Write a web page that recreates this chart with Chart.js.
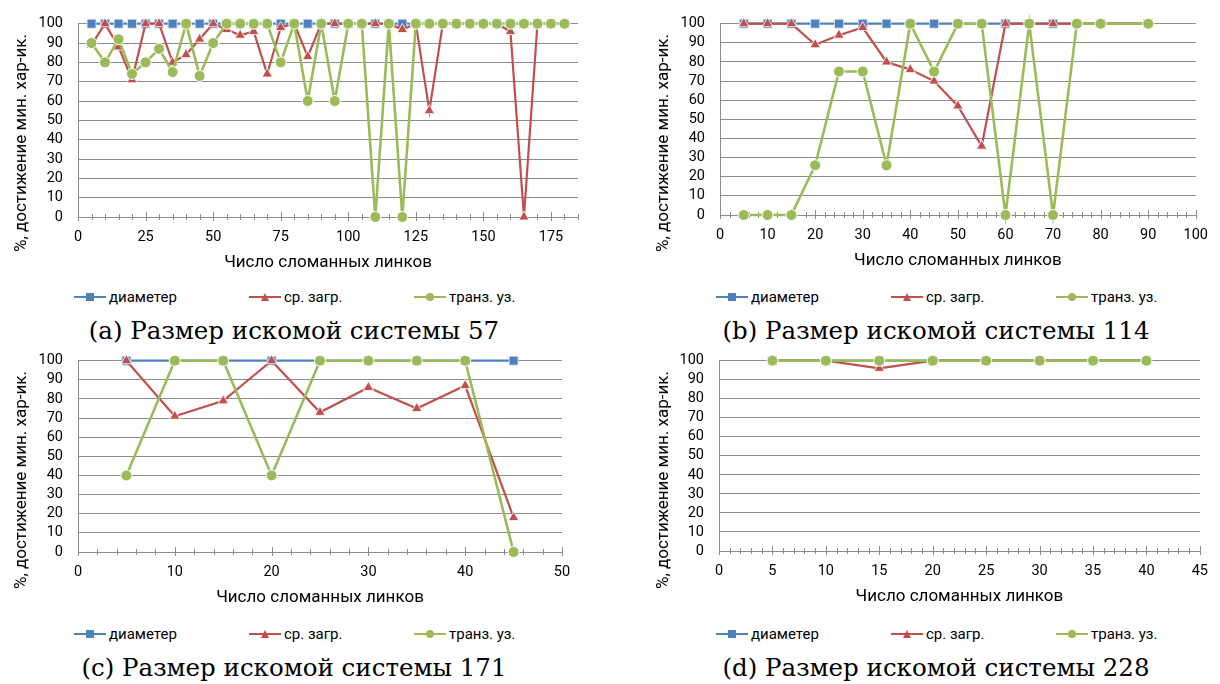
<!DOCTYPE html>
<html>
<head>
<meta charset="utf-8">
<script src="https://cdn.jsdelivr.net/npm/chart.js@4.4.1/dist/chart.umd.min.js"></script>
<style>
    body { margin: 0; background: #fff; width: 1220px; height: 684px; position: relative; overflow: hidden; font-family: Roboto, sans-serif; color: #000; }
    .panel { position: absolute; }
    .ytitle { position: absolute; transform: translate(-50%, -50%) rotate(-90deg); white-space: nowrap; font-size: 17px; }
    .legend-item { position: absolute; font-size: 15px; white-space: nowrap; transform: translateY(-50%); display: flex; align-items: center; }
    .sym { position: relative; display: inline-block; width: 32px; height: 12px; margin-right: 3px; }
    .sym .ln { position: absolute; left: 0; right: 0; top: 5px; height: 2px; }
    .sym .mk { position: absolute; left: 50%; top: 50%; transform: translate(-50%, -50%); }
    .caption { position: absolute; transform: translate(-50%, -50%); white-space: nowrap; font-family: "DejaVu Serif", serif; font-size: 24.5px; }
</style>
</head>
<body>

<script>
// ============================================================================
// Data
// ============================================================================

const seriesNames = ['диаметер', 'ср. загр.', 'транз. уз.'];
const captions = [
    '(a) Размер искомой системы 57',
    '(b) Размер искомой системы 114',
    '(c) Размер искомой системы 171',
    '(d) Размер искомой системы 228'
];

// (a) 57
const xA = [5, 10, 15, 20, 25, 30, 35, 40, 45, 50, 55, 60, 65, 70, 75, 80, 85, 90,
            95, 100, 105, 110, 115, 120, 125, 130, 135, 140, 145, 150, 155, 160, 165, 170, 175, 180];
const diamA = [100, 100, 100, 100, 100, 100, 100, 100, 100, 100, 100, 100, 100, 100, 100, 100, 100, 100,
               100, 100, 100, 100, 100, 100, 100, 100, 100, 100, 100, 100, 100, 100, 100, 100, 100, 100];
const loadA = [89, 100, 88, 71, 100, 100, 80, 84, 92, 100, 97, 94, 96, 74, 98, 100, 83, 100,
               100, 100, 100, 100, 100, 97, 100, 55, 100, 100, 100, 100, 100, 96, 0, 100, 100, 100];
const transA = [90, 80, 92, 74, 80, 87, 75, 100, 73, 90, 100, 100, 100, 100, 80, 100, 60, 100,
                60, 100, 100, 0, 100, 0, 100, 100, 100, 100, 100, 100, 100, 100, 100, 100, 100, 100];

// (b) 114
const xB = [5, 10, 15, 20, 25, 30, 35, 40, 45, 50, 55, 60, 65, 70, 75, 80, 90];
const diamB = [100, 100, 100, 100, 100, 100, 100, 100, 100, 100, 100, 100, 100, 100, 100, 100, 100];
const loadB = [100, 100, 100, 89, 94, 98, 80, 76, 70, 57, 36, 100, 100, 100, 100, 100, 100];
const transB = [0, 0, 0, 26, 75, 75, 26, 100, 75, 100, 100, 0, 100, 0, 100, 100, 100];

// (c) 171
const xC = [5, 10, 15, 20, 25, 30, 35, 40, 45];
const diamC = [100, 100, 100, 100, 100, 100, 100, 100, 100];
const loadC = [100, 71, 79, 100, 73, 86, 75, 87, 18];
const transC = [40, 100, 100, 40, 100, 100, 100, 100, 0];

// (d) 228
const xD = [5, 10, 15, 20, 25, 30, 35, 40];
const diamD = [100, 100, 100, 100, 100, 100, 100, 100];
const loadD = [100, 100, 96, 100, 100, 100, 100, 100];
const transD = [100, 100, 100, 100, 100, 100, 100, 100];

// ============================================================================
// Styles / layout
// ============================================================================

const BLUE = '#4F81BD';
const RED = '#C0504D';
const GREEN = '#9BBB59';
const GRID = '#8c8c8c';
const FONT = 'Roboto, sans-serif';

const panels = [
    { x: xA, s: [diamA, loadA, transA], left: 0,   top: 0,   w: 600, h: 280, area: [78, 578, 20, 217],  xMax: 185, major: 25, minor: 5 },
    { x: xB, s: [diamB, loadB, transB], left: 642, top: 0,   w: 578, h: 280, area: [720, 1207, 23, 215], xMax: 100, major: 10, minor: 2 },
    { x: xC, s: [diamC, loadC, transC], left: 0,   top: 337, w: 600, h: 280, area: [78, 562, 359, 552], xMax: 50,  major: 10, minor: 2 },
    { x: xD, s: [diamD, loadD, transD], left: 642, top: 337, w: 578, h: 280, area: [719, 1207, 358, 551], xMax: 45, major: 5,  minor: 1 }
];

// ============================================================================
// Axis tick marks (major + minor, crossing the axis line like Excel)
// ============================================================================

const crossTicks = {
    id: 'crossTicks',
    beforeDatasetsDraw(chart, args, opts) {
        const sc = chart.scales.x;
        const ctx = chart.ctx;
        const y = chart.chartArea.bottom;
        ctx.save();
        ctx.strokeStyle = GRID;
        ctx.lineWidth = 1;
        for (let v = 0; v <= sc.max + 1e-9; v += opts.minor) {
            const isMajor = Math.abs(v / opts.major - Math.round(v / opts.major)) < 1e-6;
            const px = Math.round(sc.getPixelForValue(v)) + 0.5;
            ctx.beginPath();
            ctx.moveTo(px, y - (isMajor ? 5 : 3));
            ctx.lineTo(px, y + (isMajor ? 4 : 3));
            ctx.stroke();
        }
        ctx.restore();
    }
};

function pts(xs, ys) {
    return xs.map((x, i) => ({ x: x, y: ys[i] }));
}

function makePanel(p, idx) {
    const div = document.createElement('div');
    div.className = 'panel';
    div.style.left = p.left + 'px';
    div.style.top = p.top + 'px';
    const canvas = document.createElement('canvas');
    canvas.width = p.w;
    canvas.height = p.h;
    div.appendChild(canvas);
    document.body.appendChild(div);

    const [aL, aR, aT, aB] = p.area;
    const yW = aL - p.left;
    const xH = p.top + p.h - aB;
    const titleSize = 17;

    new Chart(canvas.getContext('2d'), {
        type: 'line',
        data: {
            datasets: [
                {
                    label: seriesNames[0], data: pts(p.x, p.s[0]), order: 3,
                    borderColor: BLUE, backgroundColor: BLUE, borderWidth: 2.2,
                    pointStyle: 'rect', pointRadius: 6.3, pointBorderColor: '#dbe6f4', pointBorderWidth: 0.8
                },
                {
                    label: seriesNames[1], data: pts(p.x, p.s[1]), order: 2,
                    borderColor: RED, backgroundColor: RED, borderWidth: 2.2,
                    pointStyle: 'triangle', pointRadius: 6, pointBorderColor: '#ffffff', pointBorderWidth: 0.8
                },
                {
                    label: seriesNames[2], data: pts(p.x, p.s[2]), order: 1,
                    borderColor: GREEN, backgroundColor: GREEN, borderWidth: 2.6,
                    pointStyle: 'circle', pointRadius: 5.5, pointBorderColor: '#ffffff', pointBorderWidth: 1
                }
            ]
        },
        options: {
            responsive: false,
            animation: false,
            clip: false,
            layout: { padding: { left: 0, top: aT - p.top, right: p.left + p.w - aR, bottom: 0 } },
            plugins: {
                legend: { display: false },
                tooltip: { enabled: false },
                crossTicks: { major: p.major, minor: p.minor }
            },
            elements: { line: { tension: 0 } },
            scales: {
                x: {
                    type: 'linear',
                    min: 0,
                    max: p.xMax,
                    afterFit: (sc) => { sc.height = xH; },
                    afterBuildTicks: (sc) => {
                        const t = [];
                        for (let v = 0; v <= p.xMax; v += p.minor) t.push({ value: v });
                        sc.ticks = t;
                    },
                    ticks: {
                        autoSkip: false,
                        maxRotation: 0,
                        padding: 12,
                        color: '#000',
                        font: { family: FONT, size: 14.5 },
                        callback: (v) => (v % p.major === 0 ? String(v) : '')
                    },
                    grid: { display: false, drawTicks: false },
                    border: { display: true, color: GRID, width: 1 },
                    title: {
                        display: true,
                        text: 'Число сломанных линков',
                        color: '#000',
                        font: { family: FONT, size: titleSize },
                        padding: { top: 0, bottom: xH - 46 - titleSize * 0.6 }
                    }
                },
                y: {
                    min: 0,
                    max: 100,
                    afterFit: (sc) => { sc.width = yW; },
                    afterBuildTicks: (sc) => {
                        const t = [];
                        for (let v = 0; v <= 100; v += 10) t.push({ value: v });
                        sc.ticks = t;
                    },
                    ticks: {
                        autoSkip: false,
                        padding: 15,
                        color: '#000',
                        font: { family: FONT, size: 14.5 }
                    },
                    grid: { color: GRID, lineWidth: 1, drawTicks: false },
                    border: { display: true, color: GRID, width: 1 }
                }
            }
        },
        plugins: [crossTicks]
    });

    // y-axis title
    const yt = document.createElement('div');
    yt.className = 'ytitle';
    yt.textContent = '%, достижение мин. хар-ик.';
    yt.style.left = (p.left + 20) + 'px';
    yt.style.top = (p.top + 143) + 'px';
    document.body.appendChild(yt);

    // legend
    const colors = [BLUE, RED, GREEN];
    const offs = [74, 249, 414];
    const markers = [
        `<span class="mk" style="width:8px;height:8px;background:${BLUE}"></span>`,
        `<span class="mk" style="width:0;height:0;border-left:4.5px solid transparent;border-right:4.5px solid transparent;border-bottom:8px solid ${RED}"></span>`,
        `<span class="mk" style="width:8px;height:8px;border-radius:50%;background:${GREEN}"></span>`
    ];
    seriesNames.forEach((name, i) => {
        const it = document.createElement('div');
        it.className = 'legend-item';
        it.style.left = (p.left + offs[i]) + 'px';
        it.style.top = (p.top + 297) + 'px';
        it.innerHTML = `<span class="sym"><span class="ln" style="background:${colors[i]}"></span>${markers[i]}</span><span>${name}</span>`;
        document.body.appendChild(it);
    });

    // caption
    const cap = document.createElement('div');
    cap.className = 'caption';
    cap.textContent = captions[idx];
    cap.style.left = (p.left + 294) + 'px';
    cap.style.top = (p.top + 330) + 'px';
    document.body.appendChild(cap);
}

document.addEventListener('DOMContentLoaded', function() {
    panels.forEach(makePanel);
});
</script>
</body>
</html>
